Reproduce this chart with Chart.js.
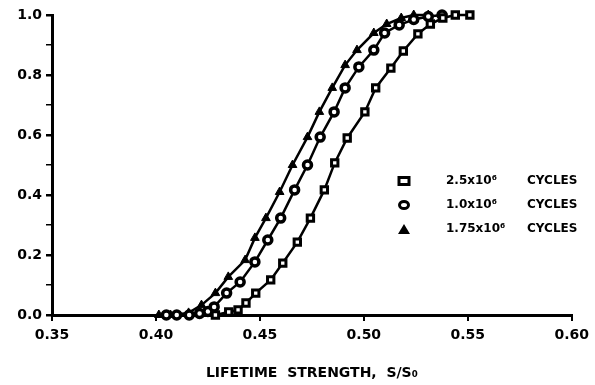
<!DOCTYPE html>
<html>
<head>
<meta charset="utf-8">
<script src="https://cdn.jsdelivr.net/npm/chart.js@4.4.1/dist/chart.umd.min.js"></script>
<style>
  html, body { margin: 0; padding: 0; background: #fff; }
  #wrap { width: 595px; height: 385px; }
</style>
</head>
<body>
<div id="wrap"><canvas id="chart" width="595" height="385"></canvas></div>
<script>
// Values: cumulative probability vs lifetime strength S/So
const squareX = [0.4286, 0.435, 0.4395, 0.4433, 0.448, 0.4552, 0.461, 0.468, 0.4743, 0.481, 0.486, 0.492, 0.5005, 0.5057, 0.513, 0.519, 0.526, 0.532, 0.538, 0.544, 0.551];
const squareY = [0.0, 0.01, 0.017, 0.04, 0.073, 0.117, 0.173, 0.243, 0.323, 0.417, 0.507, 0.59, 0.677, 0.757, 0.823, 0.88, 0.937, 0.97, 0.99, 1.0, 1.0];

const circleX = [0.405, 0.410, 0.416, 0.421, 0.425, 0.428, 0.434, 0.4405, 0.4476, 0.4538, 0.46, 0.4667, 0.4729, 0.479, 0.4857, 0.491, 0.4976, 0.5048, 0.51, 0.517, 0.524, 0.531, 0.5376];
const circleY = [0.0, 0.0, 0.0, 0.005, 0.012, 0.027, 0.073, 0.11, 0.177, 0.25, 0.323, 0.417, 0.5, 0.593, 0.677, 0.757, 0.827, 0.883, 0.94, 0.967, 0.985, 0.995, 1.0];

const triangleX = [0.4014, 0.407, 0.4157, 0.4219, 0.4286, 0.4348, 0.4429, 0.4476, 0.4529, 0.4595, 0.4657, 0.4729, 0.4786, 0.4848, 0.491, 0.4967, 0.5048, 0.511, 0.518, 0.524, 0.531];
const triangleY = [0.0, 0.0, 0.007, 0.033, 0.073, 0.127, 0.183, 0.257, 0.323, 0.41, 0.5, 0.593, 0.677, 0.757, 0.833, 0.883, 0.94, 0.97, 0.99, 1.0, 1.0];

const seriesLabels = ['2.5x10\u2076', '1.0x10\u2076', '1.75x10\u2076'];
const xTicks = [0.35, 0.40, 0.45, 0.50, 0.55, 0.60];
const yTicks = [0.0, 0.2, 0.4, 0.6, 0.8, 1.0];

const FONT = '"DejaVu Sans", "Liberation Sans", sans-serif';

function toPoints(xs, ys) {
    return xs.map((x, i) => ({ x: x, y: ys[i] }));
}

// legend drawn inside the plot, right side
const insideLegend = {
    id: 'insideLegend',
    afterDraw(chart) {
        const ctx = chart.ctx;
        const styles = ['rect', 'circle', 'triangle'];
        const rows = [181, 205, 229];
        ctx.save();
        ctx.font = 'bold 12px ' + FONT;
        ctx.fillStyle = '#000';
        ctx.strokeStyle = '#000';
        ctx.textBaseline = 'middle';
        rows.forEach((y, i) => {
            const x = 404;
            ctx.lineWidth = 3;
            ctx.beginPath();
            if (styles[i] === 'rect') {
                ctx.rect(x - 5, y - 3.5, 10, 7);
                ctx.stroke();
            } else if (styles[i] === 'circle') {
                ctx.ellipse(x, y, 4.5, 3.5, 0, 0, Math.PI * 2);
                ctx.stroke();
            } else {
                ctx.moveTo(x - 6, y + 5);
                ctx.lineTo(x, y - 5);
                ctx.lineTo(x + 6, y + 5);
                ctx.closePath();
                ctx.fill();
            }
            ctx.fillText(seriesLabels[i], 446, y);
            ctx.fillText('CYCLES', 527, y);
        });
        ctx.restore();
    }
};

document.addEventListener('DOMContentLoaded', function() {
    const common = {
        borderColor: '#000',
        borderWidth: 2.5,
        pointBorderColor: '#000',
        tension: 0,
        fill: false,
        clip: false
    };

    new Chart(document.getElementById('chart'), {
        type: 'line',
        data: {
            datasets: [
                Object.assign({}, common, {
                    label: seriesLabels[0],
                    data: toPoints(squareX, squareY),
                    pointStyle: 'rect',
                    pointRadius: 4.5,
                    pointBackgroundColor: '#fff',
                    pointBorderWidth: 3
                }),
                Object.assign({}, common, {
                    label: seriesLabels[1],
                    data: toPoints(circleX, circleY),
                    pointStyle: 'circle',
                    pointRadius: 4,
                    pointBackgroundColor: '#fff',
                    pointBorderWidth: 3.5
                }),
                Object.assign({}, common, {
                    label: seriesLabels[2],
                    data: toPoints(triangleX, triangleY),
                    pointStyle: 'triangle',
                    pointRadius: 5,
                    pointBackgroundColor: '#000',
                    pointBorderWidth: 1
                })
            ]
        },
        options: {
            responsive: false,
            animation: false,
            layout: { padding: { top: 15, right: 17, left: 0, bottom: 0 } },
            plugins: {
                legend: { display: false },
                tooltip: { enabled: false }
            },
            scales: {
                x: {
                    type: 'linear',
                    min: 0.35,
                    max: 0.60,
                    afterBuildTicks: axis => { axis.ticks = xTicks.map(v => ({ value: v })); },
                    afterFit: axis => { axis.height = 70; },
                    border: { color: '#000', width: 3 },
                    grid: { drawOnChartArea: false, color: '#000', lineWidth: 2, tickLength: 6 },
                    ticks: {
                        color: '#000',
                        padding: 6,
                        font: { family: FONT, size: 14, weight: 'bold' },
                        callback: v => v.toFixed(2),
                        maxRotation: 0
                    },
                    title: {
                        display: true,
                        text: 'LIFETIME  STRENGTH,  S/S\u2080',
                        color: '#000',
                        font: { family: FONT, size: 14, weight: 'bold' },
                        padding: { top: 0, bottom: 3 }
                    }
                },
                y: {
                    type: 'linear',
                    min: 0,
                    max: 1.0,
                    afterBuildTicks: axis => {
                        const t = [];
                        for (let i = 0; i <= 10; i++) t.push({ value: i / 10 });
                        axis.ticks = t;
                    },
                    afterFit: axis => { axis.width = 52; },
                    border: { color: '#000', width: 3 },
                    grid: {
                        drawOnChartArea: false,
                        color: '#000',
                        lineWidth: ctx => (ctx.index % 2 === 0 ? 2.5 : 1.5),
                        tickLength: 6
                    },
                    ticks: {
                        color: '#000',
                        padding: 4,
                        font: { family: FONT, size: 14, weight: 'bold' },
                        callback: (v, i) => (yTicks.some(t => Math.abs(t - v) < 1e-6) ? v.toFixed(1) : '')
                    }
                }
            }
        },
        plugins: [insideLegend]
    });
});
</script>
</body>
</html>
